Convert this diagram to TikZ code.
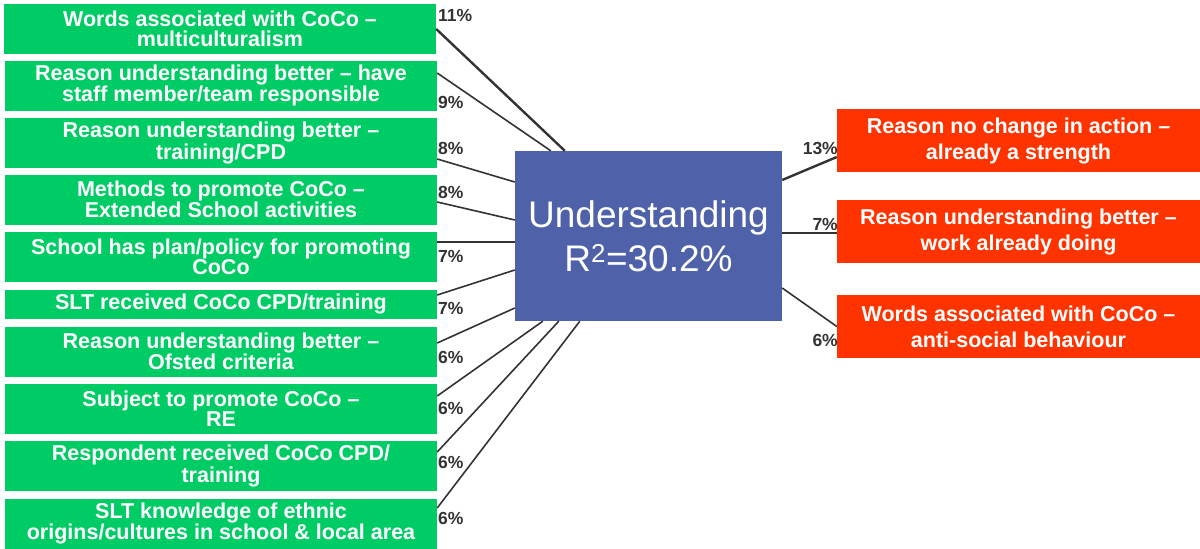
\documentclass[tikz,border=0pt]{standalone}
\usepackage{fontspec}
\setmainfont{Liberation Sans}
\usepackage{xcolor}
\definecolor{boxgreen}{RGB}{0,204,102}
\definecolor{boxblue}{RGB}{79,97,168}
\definecolor{boxred}{RGB}{255,51,0}
\definecolor{pctgray}{RGB}{51,51,51}
\usetikzlibrary{calc}

\begin{document}
\begin{tikzpicture}[x=1pt,y=-1pt,
    greenbox/.style={fill=boxgreen,text=white,align=center,inner sep=0pt,
      minimum width=432pt,minimum height=50pt,
      font=\fontsize{21.5}{20}\selectfont\bfseries},
    redbox/.style={fill=boxred,text=white,align=center,inner sep=0pt,
      minimum width=363pt,minimum height=63pt,
      font=\fontsize{21.5}{26}\selectfont\bfseries},
    pct/.style={text=pctgray,inner sep=0pt,font=\fontsize{17.5}{17.5}\selectfont\bfseries},
    link/.style={draw=pctgray,line width=1.6pt},
    biglink/.style={draw=pctgray,line width=2.4pt}]
      \useasboundingbox (0,0) rectangle (1200,549);

      % predictors
      \node (g1) at (220,29) [greenbox] {Words associated with CoCo --\\multiculturalism};
      \node (g2) at (221,85.5) [greenbox] {Reason understanding better -- have\\staff member/team responsible};
      \node (g3) at (221,143) [greenbox] {Reason understanding better --\\training/CPD};
      \node (g4) at (221,199.5) [greenbox] {Methods to promote CoCo --\\Extended School activities};
      \node (g5) at (221,257) [greenbox] {School has plan/policy for promoting\\CoCo};
      \node (g6) at (221,304) [greenbox,minimum height=29pt] {SLT received CoCo CPD/training};
      \node (g7) at (221,351.5) [greenbox] {Reason understanding better --\\Ofsted criteria};
      \node (g8) at (221,409) [greenbox] {Subject to promote CoCo --\\RE};
      \node (g9) at (221,466) [greenbox] {Respondent received CoCo CPD/\\training};
      \node (g10) at (221,523.5) [greenbox] {SLT knowledge of ethnic\\origins/cultures in school \& local area};

      % outcome
      \node (u) at (648.5,236) [fill=boxblue,text=white,align=center,inner sep=0pt,
        minimum width=267pt,minimum height=170pt,
        font=\fontsize{37}{44}\selectfont] {Understanding\\R\textsuperscript{2}=30.2\%};

      \node (r1) at (1018.5,140.5) [redbox] {Reason no change in action --\\already a strength};
      \node (r2) at (1018.5,231.5) [redbox] {Reason understanding better --\\work already doing};
      \node (r3) at (1018.5,326.5) [redbox] {Words associated with CoCo --\\anti-social behaviour};

      \draw[biglink] (g1.east) -- ([xshift=50pt]u.north west);
      \draw[link] ([yshift=12.5pt]g2.east) -- ([xshift=36pt]u.north west);
      \draw[link] ([yshift=-16pt]g3.east) -- ([yshift=54pt]u.west);
      \draw[link] ([yshift=-2.5pt]g4.east) -- ([yshift=16pt]u.west);
      \draw[link] ([yshift=15pt]g5.east) -- ([yshift=-6pt]u.west);
      \draw[link] ([yshift=9pt]g6.east) -- ([yshift=-34pt]u.west);
      \draw[link] ([yshift=8.5pt]g7.east) -- ([yshift=-72pt]u.west);
      \draw[link] ([yshift=13pt]g8.east) -- ([xshift=28pt]u.south west);
      \draw[link] ([yshift=14pt]g9.east) -- ([xshift=44pt]u.south west);
      \draw[link] ([yshift=15.5pt]g10.east) -- ([xshift=65pt]u.south west);

      \draw[biglink] ([yshift=56pt]u.east) -- ([yshift=-16.5pt]r1.west);
      \draw[link] ([yshift=3pt]u.east) -- ([yshift=-1.5pt]r2.west);
      \draw[link] ([yshift=-52pt]u.east) -- (r3.west);

      \node (p1) at (438,15) [pct,anchor=west] {11\%};
      \node (p2) at (438,102) [pct,anchor=west] {9\%};
      \node (p3) at (438,148) [pct,anchor=west] {8\%};
      \node (p4) at (438,192) [pct,anchor=west] {8\%};
      \node (p5) at (438,256) [pct,anchor=west] {7\%};
      \node (p6) at (438,308) [pct,anchor=west] {7\%};
      \node (p7) at (438,357) [pct,anchor=west] {6\%};
      \node (p8) at (438,408) [pct,anchor=west] {6\%};
      \node (p9) at (438,462) [pct,anchor=west] {6\%};
      \node (p10) at (438,518) [pct,anchor=west] {6\%};

      \node (q1) at (838,148) [pct,anchor=east] {13\%};
      \node (q2) at (838,224) [pct,anchor=east] {7\%};
      \node (q3) at (838,340) [pct,anchor=east] {6\%};
    \end{tikzpicture}
\end{document}
